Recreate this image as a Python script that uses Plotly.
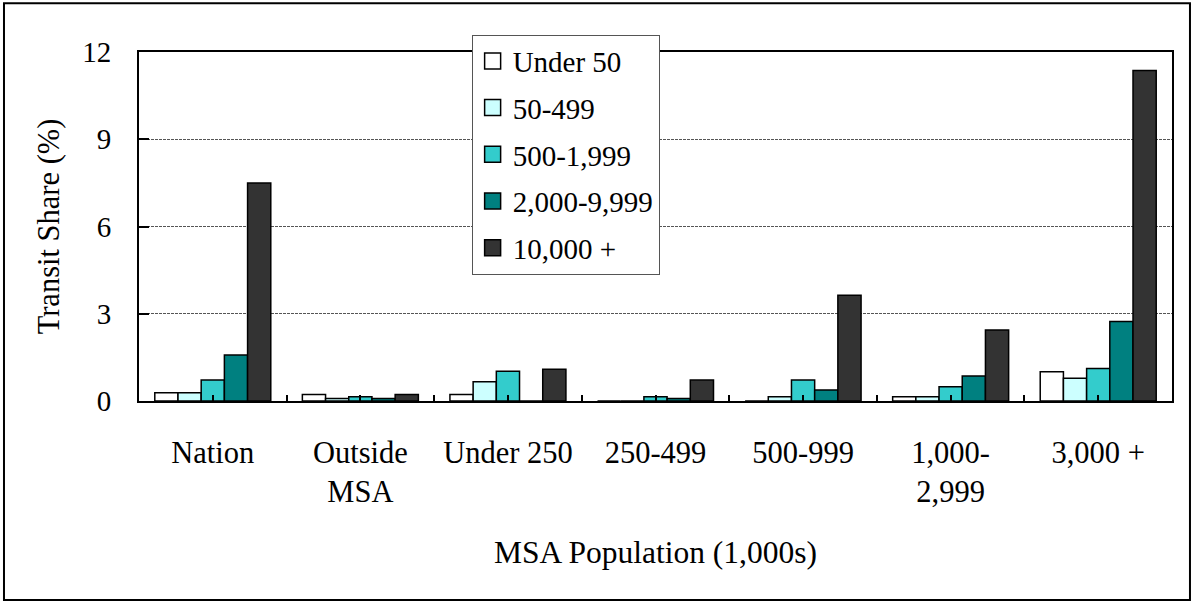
import plotly.graph_objects as go

categories = ["Nation", "Outside<br>MSA", "Under 250", "250-499", "500-999", "1,000-<br>2,999", "3,000 +"]
series_names = ["Under 50", "50-499", "500-1,999", "2,000-9,999", "10,000 +"]
under_50 = [0.28, 0.22, 0.22, 0, 0, 0.15, 1.01]
s_50_499 = [0.28, 0.09, 0.66, 0, 0.15, 0.15, 0.78]
s_500_1999 = [0.72, 0.15, 1.02, 0.15, 0.72, 0.49, 1.12]
s_2000_9999 = [1.58, 0.09, 0, 0.09, 0.38, 0.86, 2.73]
s_10000_plus = [7.5, 0.22, 1.09, 0.72, 3.64, 2.44, 11.36]
series_values = [under_50, s_50_499, s_500_1999, s_2000_9999, s_10000_plus]
colors = ["#FFFFFF", "#CCFFFF", "#33CCCC", "#008080", "#333333"]
y_ticks = [0, 3, 6, 9, 12]

FONT = "Liberation Serif"
def fnt(size):
    return dict(family=FONT, size=size, color="black")

fig = go.Figure()
for name, vals, col in zip(series_names, series_values, colors):
    fig.add_trace(go.Bar(
        x=categories, y=vals, name=name, showlegend=False,
        marker=dict(color=col, line=dict(color="black", width=1.5)),
    ))
# legend entries
for i, (name, col) in enumerate(zip(series_names, colors)):
    fig.add_trace(go.Scatter(
        x=[None], y=[None], name=name, mode="markers", xaxis="x2",
        legendgroup=f"g{i}",
        marker=dict(symbol="square", size=20, color=col, line=dict(color="black", width=1.5)),
    ))

fig.update_layout(
    width=1195, height=603,
    margin=dict(l=139, r=23, t=52, b=202),
    paper_bgcolor="white", plot_bgcolor="white",
    font=fnt(28),
    barmode="group", bargap=0.214, bargroupgap=0,
    legend=dict(
        x=0.322, y=1.05, xanchor="left", yanchor="top",
        bgcolor="white", bordercolor="#555555", borderwidth=1,
        font=fnt(29),
        tracegroupgap=6, itemsizing="trace",
    ),
    xaxis=dict(
        type="category", tickson="boundaries", ticks="inside", ticklen=6,
        tickwidth=1.5, tickcolor="black", tickfont=fnt(30.5),
        showline=True, linecolor="black", linewidth=2, mirror=True,
        showgrid=False, ticklabelstandoff=23,
        title=dict(text="MSA Population (1,000s)", standoff=33, font=fnt(31.5)),
        range=[-0.5, 6.5],
    ),
    xaxis2=dict(
        overlaying="x", range=[-0.5, 6.5], tickvals=list(range(7)),
        ticks="inside", ticklen=6, tickwidth=1.5, tickcolor="black",
        showticklabels=False, showgrid=False, showline=False, zeroline=False,
        side="bottom",
    ),
    yaxis=dict(
        range=[0, 12], tickvals=y_ticks, ticks="inside", ticklen=10,
        tickwidth=1.5, tickcolor="black", tickfont=fnt(29),
        showline=True, linecolor="black", linewidth=2, mirror=True,
        showgrid=True, gridcolor="#555555", gridwidth=1, griddash="3px,1px",
        zeroline=False, ticklabelstandoff=20,
        title=dict(text="Transit Share (%)", standoff=14, font=fnt(30.5)),
    ),
    shapes=[dict(
        type="rect", xref="paper", yref="paper",
        x0=-0.1307, x1=1.0174, y0=-0.570, y1=1.140,
        line=dict(color="black", width=2), fillcolor="rgba(0,0,0,0)", layer="below",
    )],
)

fig.write_html("out.html", config={"displayModeBar": False},
               post_script="document.body.style.margin='0';document.body.style.padding='0';")
